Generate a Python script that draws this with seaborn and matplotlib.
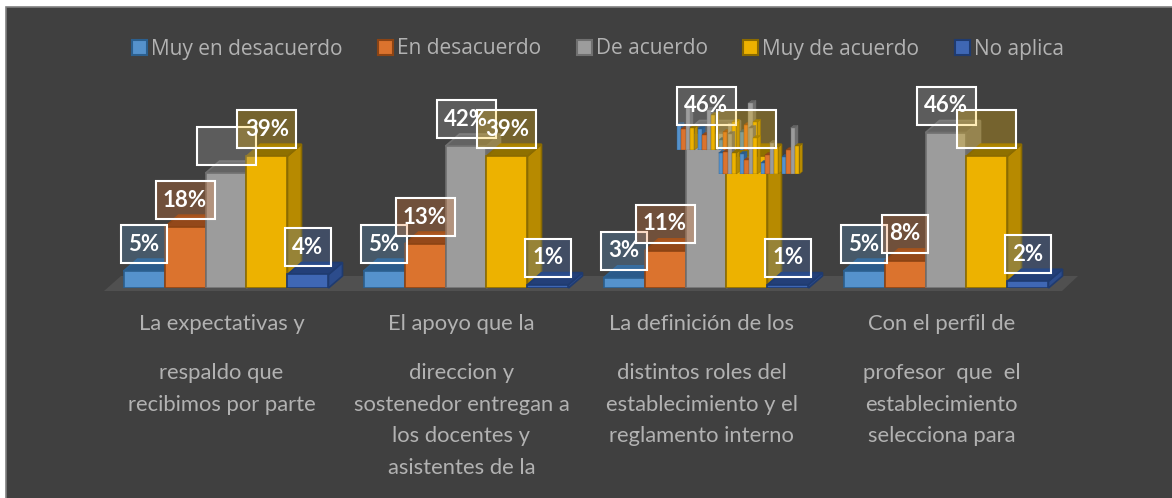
import matplotlib
matplotlib.use("Agg")
import matplotlib.pyplot as plt
import seaborn as sns
import pandas as pd
from matplotlib.patches import Polygon, Rectangle
from matplotlib.transforms import IdentityTransform, Affine2D, ScaledTranslation

# ---- data ----
series = ["Muy en desacuerdo", "En desacuerdo", "De acuerdo", "Muy de acuerdo", "No aplica"]
groups = ["G1", "G2", "G3", "G4"]
muy_en_desacuerdo = [5, 5, 3, 5]
en_desacuerdo = [18, 13, 11, 8]
de_acuerdo = [34, 42, 46, 46]
muy_de_acuerdo = [39, 39, 39, 39]
no_aplica = [4, 1, 1, 2]
hidden_labels = {("De acuerdo", "G1"), ("Muy de acuerdo", "G3"), ("Muy de acuerdo", "G4")}
category_lines = [
    ["La expectativas y", "respaldo que", "recibimos por parte"],
    ["El apoyo que la", "direccion y", "sostenedor entregan a", "los docentes y", "asistentes de la"],
    ["La definición de los", "distintos roles del", "establecimiento y el", "reglamento interno"],
    ["Con el perfil de", "profesor  que  el", "establecimiento", "selecciona para"],
]
# stray miniature charts over the third group
mini_series = series[:4]
mini_top = [[25, 21, 43, 22], [21, 15, 40, 35], [10, 18, 27, 28], [18, 25, 47, 28]]
mini_bottom = [[21, 22, 40, 21], [20, 14, 46, 36], [11, 19, 31, 27], [17, 24, 46, 28]]

# ---- style ----
W, H = 1172, 498
BG = "#404040"
TXT = "#b2b2b2"
front = ["#5592CC", "#DB732E", "#9C9C9C", "#EDB200", "#3F67B4"]
edge = ["#2B5F8E", "#8C4414", "#707070", "#8B6B00", "#1F3B70"]
side = ["#2F6298", "#A4511B", "#6E6E6E", "#B78A00", "#2C4C8C"]
top = ["#2A5A8A", "#93481A", "#636363", "#8F7000", "#233F78"]
box = ["#5B9BD5", "#ED7D31", "#A5A5A5", "#FFC000", "#4472C4"]
PX_PER_PCT = 3.38
LINE_Y = [324, 373, 405, 436, 468]

sns.set_theme(style="white")
plt.rcParams["font.family"] = ["Lato", "DejaVu Sans"]
fig = plt.figure(figsize=(W / 100, H / 100), dpi=100, facecolor="white")
fig.add_artist(Rectangle((5.5 / W, -0.1), 1.2, 1.1 - 7.5 / H, transform=fig.transFigure,
                         facecolor=BG, edgecolor="#808080", linewidth=1.2, zorder=-5))


def axes_px(left, right, ytop, ybottom, z):
    a = fig.add_axes([left / W, (H - ybottom) / H, (right - left) / W, (ybottom - ytop) / H], zorder=z)
    a.patch.set_alpha(0)
    return a


def long_table(rows, names):
    return pd.DataFrame([{"g": i, "s": s, "v": r[j]} for i, r in enumerate(rows) for j, s in enumerate(names)])


def extrude(a, dx, dy, lw):
    """Give each bar of a seaborn barplot a side and top face."""
    for i, cont in enumerate(a.containers):
        for p in cont.patches:
            p.set_edgecolor(edge[i])
            p.set_linewidth(lw)
            p.set_zorder(3 + 2 * i)
            (x0, y0), (x1, y1) = a.transData.transform(p.get_bbox().get_points())
            a.add_patch(Polygon([(x1, y0), (x1 + dx, y0 + dy), (x1 + dx, y1 + dy), (x1, y1)],
                                transform=IdentityTransform(), facecolor=side[i], edgecolor=edge[i],
                                linewidth=lw, zorder=2 + 2 * i, clip_on=False))
            a.add_patch(Polygon([(x0, y1), (x0 + dx, y1 + dy), (x1 + dx, y1 + dy), (x1, y1)],
                                transform=IdentityTransform(), facecolor=top[i], edgecolor=edge[i],
                                linewidth=lw, zorder=2 + 2 * i, clip_on=False))


# ---- main bars ----
ax = axes_px(106, 1066, 0, 288, 1)
rows = list(zip(muy_en_desacuerdo, en_desacuerdo, de_acuerdo, muy_de_acuerdo, no_aplica))
df = long_table(rows, series)
sns.barplot(data=df, x="g", y="v", hue="s", hue_order=series, palette=front, saturation=1,
            width=0.854, gap=0, ax=ax, legend=True)
ax.set_xlim(-0.5, 3.5)
ax.set_ylim(0, 288 / PX_PER_PCT)
ax.set_axis_off()
extrude(ax, 14, 12, 1.2)

# floor
(fx0, fy), (fx1, _) = ax.transData.transform([(-0.5, 0), (3.5, 0)])
ax.add_patch(Polygon([(fx0 - 2, fy - 3), (fx0 + 15, fy + 12), (fx1 + 12, fy + 12), (fx1 - 4, fy - 3)],
                     transform=IdentityTransform(), facecolor="#505050", edgecolor="none", zorder=0, clip_on=False))

# legend
handles, labels = ax.get_legend_handles_labels()
ax.get_legend().remove()
leg = fig.legend(handles, labels, loc="center", bbox_to_anchor=(598 / W, 1 - 49 / H), ncol=5, frameon=False,
                 prop={"family": "Open Sans", "size": 15}, handlelength=0.72, handleheight=0.72,
                 handletextpad=0.2, columnspacing=1.7, borderpad=0, labelcolor=TXT)
for lh, e in zip(leg.legend_handles, edge):
    lh.set_edgecolor(e)
    lh.set_linewidth(1.5)

# category labels
label_tf = ax.get_xaxis_transform() + Affine2D().translate(-4.5, 0)
for i, lines in enumerate(category_lines):
    for line, y in zip(lines, LINE_Y):
        ax.text(i, (288 - y) / 288, line, transform=label_tf, ha="center", va="center",
                color=TXT, fontsize=15.8, clip_on=False)

# ---- miniature charts ----
for rows_m, left, base in ((mini_top, 675, 150), (mini_bottom, 717, 174)):
    m = axes_px(left, left + 84, base - 60, base, 2)
    sns.barplot(data=long_table(rows_m, mini_series), x="g", y="v", hue="s", hue_order=mini_series,
                palette=front[:4], saturation=1, width=0.85, gap=0, ax=m, legend=False)
    m.set_xlim(-0.5, 3.5)
    m.set_ylim(0, 60)
    m.set_axis_off()
    extrude(m, 3, 2.5, 0.3)

# ---- data labels ----
ov = axes_px(106, 1066, 0, 288, 3)
ov.set_xlim(ax.get_xlim())
ov.set_ylim(ax.get_ylim())
ov.set_axis_off()
for i, (cont, s) in enumerate(zip(ax.containers, series)):
    for p, g, v in zip(cont.patches, groups, [r[i] for r in rows]):
        cx, cy = ax.transData.transform((p.get_x() + p.get_width() / 2, v))
        cy += 27
        hidden = (s, g) in hidden_labels
        w = 59 if (v >= 10 or hidden) else 46
        t = Affine2D().translate(cx, cy)
        ov.add_patch(Rectangle((-w / 2, -19), w, 38, transform=t, facecolor=box[i], alpha=0.28,
                               edgecolor="none", clip_on=False))
        ov.add_patch(Rectangle((-w / 2, -19), w, 38, transform=t, facecolor="none",
                               edgecolor="white", linewidth=1.5, clip_on=False))
        if not hidden:
            ov.text(0, 0, f"{v}%", transform=t, ha="center", va="center", color="white",
                    fontsize=16, fontweight="bold", clip_on=False)

fig.savefig("out.png", dpi=100, facecolor="white")
